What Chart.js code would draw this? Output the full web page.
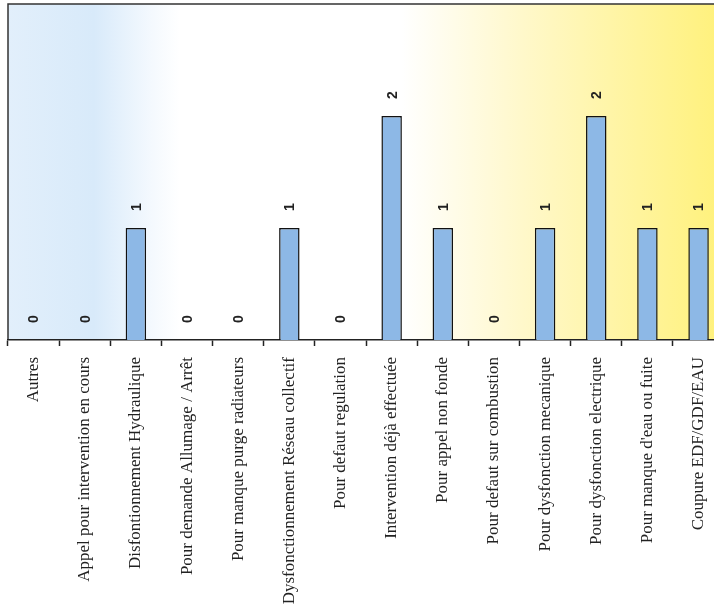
<!DOCTYPE html>
<html>
<head>
<meta charset="utf-8">
<script src="https://cdn.jsdelivr.net/npm/chart.js@4.4.1/dist/chart.umd.min.js"></script>
<style>
  html, body { margin: 0; padding: 0; overflow: hidden; background: #fff; }
  #wrap { width: 730px; height: 606px; }
</style>
</head>
<body>
<div id="wrap"><canvas id="myChart"></canvas></div>
<script>
const categories = [
  'Autres',
  'Appel pour intervention en cours',
  'Disfontionnement Hydraulique',
  'Pour demande Allumage / Arrêt',
  'Pour manque purge radiateurs',
  'Dysfonctionnement Réseau collectif',
  'Pour defaut regulation',
  'Intervention déjà effectuée',
  'Pour appel non fonde',
  'Pour defaut sur combustion',
  'Pour dysfonction mecanique',
  'Pour dysfonction electrique',
  "Pour manque d'eau ou fuite",
  'Coupure EDF/GDF/EAU'
]
const counts = [0, 0, 1, 0, 0, 1, 0, 2, 1, 0, 1, 2, 1, 1]

// gradient background + frame of the plot area
const backdrop = {
  id: 'backdrop',
  beforeDraw(chart) {
    const { ctx, chartArea: a } = chart
    const g = ctx.createLinearGradient(a.left, 0, a.right, 0)
    g.addColorStop(0, '#e2effb')
    g.addColorStop(0.12, '#d8eafa')
    g.addColorStop(0.2, '#f4f9fe')
    g.addColorStop(0.24, '#ffffff')
    g.addColorStop(0.55, '#ffffff')
    g.addColorStop(0.72, '#fff8ca')
    g.addColorStop(1, '#fff17a')
    ctx.save()
    ctx.fillStyle = g
    ctx.fillRect(a.left, a.top, a.right - a.left, a.bottom - a.top)
    ctx.strokeStyle = '#333'
    ctx.lineWidth = 1.5
    ctx.beginPath()
    ctx.moveTo(a.left, a.bottom)
    ctx.lineTo(a.left, a.top)
    ctx.lineTo(a.right, a.top)
    ctx.stroke()
    ctx.restore()
  }
}

// value labels, rotated like the category labels
const valueLabels = {
  id: 'valueLabels',
  afterDatasetsDraw(chart) {
    const { ctx } = chart
    const meta = chart.getDatasetMeta(0)
    ctx.save()
    ctx.font = 'bold 14px "Liberation Sans", Arial, sans-serif'
    ctx.fillStyle = '#222'
    ctx.textAlign = 'center'
    ctx.textBaseline = 'middle'
    meta.data.forEach((bar, i) => {
      ctx.save()
      ctx.translate(bar.x + 1, bar.y - 21)
      ctx.rotate(-Math.PI / 2)
      ctx.fillText(String(counts[i]), 0, 0)
      ctx.restore()
    })
    ctx.restore()
  }
}

const data = {
  labels: categories,
  datasets: [{
    data: counts,
    backgroundColor: '#8db8e6',
    borderColor: '#111',
    borderWidth: 1.5,
    barPercentage: 0.4,
    categoryPercentage: 1
  }]
}

const config = {
  type: 'bar',
  data: data,
  options: {
    responsive: true,
    maintainAspectRatio: false,
    animation: false,
    layout: { padding: { left: 8, top: 4, right: 1, bottom: 0 } },
    plugins: {
      legend: { display: false },
      tooltip: { enabled: false }
    },
    scales: {
      x: {
        offset: true,
        grid: {
          offset: true,
          drawOnChartArea: false,
          tickLength: 6,
          color: '#222',
          tickWidth: 1.5
        },
        border: { color: '#222', width: 1.5 },
        ticks: {
          autoSkip: false,
          minRotation: 90,
          maxRotation: 90,
          padding: 11,
          color: '#222',
          font: { family: '"Liberation Serif", "Times New Roman", serif', size: 17 }
        },
        afterFit(scale) { scale.height = 266 }
      },
      y: {
        display: false,
        min: 0,
        max: 3
      }
    }
  },
  plugins: [backdrop, valueLabels]
}

const myChart = new Chart(document.getElementById('myChart'), config)
</script>
</body>
</html>
